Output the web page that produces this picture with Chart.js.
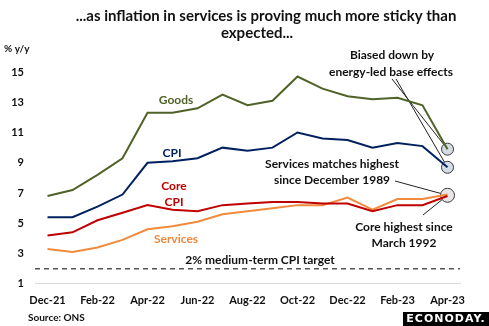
<!DOCTYPE html>
<html>
<head>
<meta charset="utf-8">
<script src="https://cdn.jsdelivr.net/npm/chart.js@4"></script>
<style>
  html, body { margin: 0; padding: 0; background: #fff; }
  canvas { display: block; }
</style>
</head>
<body>
<canvas id="chart" width="489" height="326"></canvas>
<script>
const months = ['Dec-21','Jan-22','Feb-22','Mar-22','Apr-22','May-22','Jun-22','Jul-22','Aug-22',
  'Sep-22','Oct-22','Nov-22','Dec-22','Jan-23','Feb-23','Mar-23','Apr-23']
const goods = [6.8,7.2,8.2,9.3,12.3,12.3,12.6,13.5,12.8,13.1,14.7,13.9,13.4,13.2,13.3,12.8,9.9]
const cpi = [5.4,5.4,6.1,6.9,9.0,9.1,9.3,10.0,9.8,10.0,11.0,10.6,10.5,10.0,10.3,10.1,8.7]
const core = [4.2,4.4,5.2,5.7,6.2,5.9,5.8,6.2,6.3,6.4,6.4,6.3,6.3,5.8,6.2,6.2,6.8]
const services = [3.3,3.1,3.4,3.9,4.6,4.8,5.1,5.6,5.8,6.0,6.2,6.2,6.7,5.9,6.6,6.6,6.9]
const target = 2
const yTicks = [1,3,5,7,9,11,13,15]

const FONT = 'Lato, "Open Sans", sans-serif'

function txt(ctx, s, x, y, color, size, align) {
    ctx.fillStyle = color
    ctx.font = 'bold ' + size + 'px ' + FONT
    ctx.textAlign = align || 'center'
    ctx.textBaseline = 'middle'
    ctx.fillText(s, x, y)
}

function lastPoint(chart, i) {
    const pts = chart.getDatasetMeta(i).data
    return pts[pts.length - 1]
}

function circle(ctx, x, y, r, fill) {
    ctx.beginPath()
    ctx.arc(x, y, r, 0, Math.PI * 2)
    ctx.fillStyle = fill
    ctx.fill()
    ctx.lineWidth = 1
    ctx.strokeStyle = '#3a3a3a'
    ctx.stroke()
}

function seg(ctx, x1, y1, x2, y2) {
    ctx.beginPath()
    ctx.moveTo(x1, y1)
    ctx.lineTo(x2, y2)
    ctx.lineWidth = 1
    ctx.strokeStyle = '#222'
    ctx.stroke()
}

// target line, callout lines and the end-point rings go under the series
const underlay = {
    id: 'underlay',
    beforeDatasetsDraw(chart) {
        const ctx = chart.ctx
        const area = chart.chartArea
        const y = chart.scales.y.getPixelForValue(target)
        ctx.save()
        ctx.setLineDash([5, 4])
        ctx.lineWidth = 1.5
        ctx.strokeStyle = '#555'
        ctx.beginPath()
        ctx.moveTo(area.left, y)
        ctx.lineTo(area.right, y)
        ctx.stroke()
        ctx.setLineDash([])

        const g = lastPoint(chart, 0)
        const c = lastPoint(chart, 1)
        const k = lastPoint(chart, 2)
        const s = lastPoint(chart, 3)
        const mx = (k.x + s.x) / 2, my = (k.y + s.y) / 2

        seg(ctx, 392, 79, g.x, g.y)
        seg(ctx, 396, 79, c.x, c.y)
        seg(ctx, 395, 181, mx, my)
        seg(ctx, mx, my, 423, 215)

        circle(ctx, g.x, g.y, 6, '#d6dce5')
        circle(ctx, c.x, c.y, 6, '#d6dce5')
        circle(ctx, mx, my, 7, '#e7e6e6')
        ctx.restore()
    }
}

const labelsPlugin = {
    id: 'labelsPlugin',
    afterDraw(chart) {
        const ctx = chart.ctx
        ctx.save()
        txt(ctx, '...as inflation in services is proving much more sticky than', 266, 16, '#111', 15)
        txt(ctx, 'expected...', 257, 33, '#111', 15)
        txt(ctx, '% y/y', 4, 49, '#111', 10, 'left')

        txt(ctx, 'Goods', 176, 100, '#4f6228', 12)
        txt(ctx, 'CPI', 172, 153, '#002060', 12)
        txt(ctx, 'Core', 174, 186, '#c00000', 12)
        txt(ctx, 'CPI', 174, 202, '#c00000', 12)
        txt(ctx, 'Services', 176, 239, '#f0883c', 12)
        txt(ctx, '2% medium-term CPI target', 260, 260, '#111', 12)

        txt(ctx, 'Biased down by', 392, 55, '#111', 12)
        txt(ctx, 'energy-led base effects', 391, 72, '#111', 12)
        txt(ctx, 'Services matches highest', 332, 164, '#111', 12)
        txt(ctx, 'since December 1989', 332, 180, '#111', 12)
        txt(ctx, 'Core highest since', 404, 227, '#111', 12)
        txt(ctx, 'March 1992', 404, 243, '#111', 12)

        txt(ctx, 'Source: ONS', 28, 318, '#111', 10, 'left')

        ctx.fillStyle = '#000'
        ctx.fillRect(403, 312, 86, 14)
        ctx.fillStyle = '#fff'
        ctx.font = 'bold 11px "DejaVu Sans", sans-serif'
        ctx.textAlign = 'center'
        ctx.textBaseline = 'middle'
        if ('letterSpacing' in ctx) ctx.letterSpacing = '1px'
        ctx.fillText('ECONODAY.', 446, 319.5)
        ctx.restore()
    }
}

function series(data, color) {
    return {
        data: data,
        borderColor: color,
        borderWidth: 2,
        pointRadius: 0,
        tension: 0,
        fill: false
    }
}

new Chart(document.getElementById('chart'), {
    type: 'line',
    data: {
        labels: months,
        datasets: [
            series(goods, '#4f6228'),
            series(cpi, '#002060'),
            series(core, '#c00000'),
            series(services, '#f08a3c')
        ]
    },
    options: {
        responsive: false,
        animation: false,
        devicePixelRatio: 1,
        layout: { padding: { top: 72, right: 29, bottom: 9, left: 0 } },
        plugins: {
            legend: { display: false },
            tooltip: { enabled: false }
        },
        scales: {
            x: {
                offset: true,
                grid: { display: false, drawTicks: false },
                border: { display: true, color: '#d9d9d9', width: 1 },
                ticks: {
                    autoSkip: false,
                    maxRotation: 0,
                    padding: 10,
                    color: '#111',
                    font: { family: FONT, size: 11, weight: 'bold' },
                    callback: (v, i) => i % 2 === 0 ? months[i] : ''
                }
            },
            y: {
                min: 1,
                max: 15,
                afterFit: s => { s.width = 35 },
                afterBuildTicks: s => { s.ticks = yTicks.map(v => ({ value: v })) },
                grid: { display: false, drawTicks: false },
                border: { display: false },
                ticks: {
                    padding: 11,
                    color: '#111',
                    font: { family: FONT, size: 11, weight: 'bold' }
                }
            }
        }
    },
    plugins: [underlay, labelsPlugin]
})
</script>
</body>
</html>
